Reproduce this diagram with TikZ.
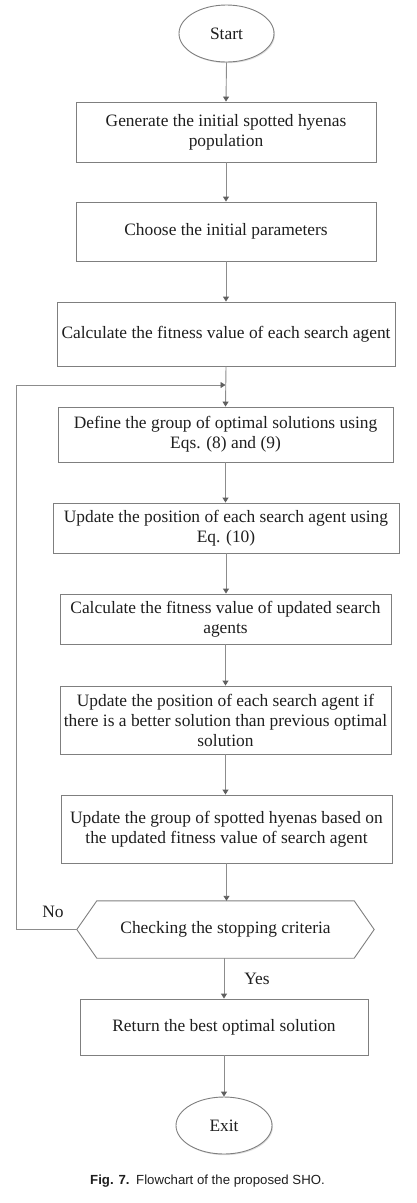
\documentclass[tikz,border=0pt]{standalone}
\usepackage{fontspec}
\setmainfont{Liberation Serif}
\newfontfamily\capfont{Liberation Sans}
\usetikzlibrary{arrows.meta,shadows,shapes.geometric}
\definecolor{boxline}{HTML}{7F7F7F}
\definecolor{arrline}{HTML}{8C8C8C}
\definecolor{arrhead}{HTML}{5F5F5F}
\definecolor{txt}{HTML}{1E1E1E}
\begin{document}
\begin{tikzpicture}[x=1pt,y=-1pt,
  every node/.style={text=txt,font=\fontsize{17.4}{20}\selectfont},
  proc/.style={draw=boxline,line width=0.9pt,rectangle,align=center,inner sep=2pt},
  term/.style={draw=boxline,fill=white,line width=0.9pt,ellipse,inner sep=0pt,
    drop shadow={shadow xshift=1pt,shadow yshift=-1.2pt,opacity=0.25}},
  flow/.style={draw=arrline,line width=0.9pt,-{Triangle[length=5pt,width=6pt,color=arrhead]}},
  lbl/.style={font=\fontsize{17.4}{20}\selectfont}]
\useasboundingbox (0,0) rectangle (417,1203);

\node[term,minimum width=95pt,minimum height=57pt] (start) at (226.5,33.5) {Start};
\node[proc,minimum width=300pt,minimum height=60pt] (b1) at (226,132) {Generate the initial spotted hyenas\\population};
\node[proc,minimum width=300pt,minimum height=59pt] (b2) at (226,231.5) {Choose the initial parameters};
\node[proc,minimum width=338pt,minimum height=64pt] (b3) at (226,334) {Calculate the fitness value of each search agent};
\node[proc,minimum width=335pt,minimum height=55pt] (b4) at (225.5,434.5) {Define the group of optimal solutions using\\Eqs. (8) and (9)};
\node[proc,minimum width=346pt,minimum height=50pt] (b5) at (226,528) {Update the position of each search agent using\\Eq. (10)};
\node[proc,minimum width=331pt,minimum height=50pt] (b6) at (225.5,619) {Calculate the fitness value of updated search\\agents};
\node[proc,minimum width=331pt,minimum height=68pt] (b7) at (225.5,720) {Update the position of each search agent if\\there is a better solution than previous optimal\\solution};
\node[proc,minimum width=331pt,minimum height=68pt] (b8) at (226.5,829) {Update the group of spotted hyenas based on\\the updated fitness value of search agent};
\node[minimum width=297pt,minimum height=57pt,inner sep=0pt] (hex) at (225.5,929.5) {Checking the stopping criteria};
\draw[boxline,line width=0.9pt] (hex.west) -- ([xshift=20pt]hex.north west) -- ([xshift=-20pt]hex.north east) -- (hex.east) -- ([xshift=-20pt]hex.south east) -- ([xshift=20pt]hex.south west) -- cycle;
\node[proc,minimum width=288pt,minimum height=56pt] (b9) at (224,1027) {Return the best optimal solution};
\node[term,minimum width=96pt,minimum height=57pt] (exit) at (224,1125.5) {Exit};

\coordinate (lx) at (16,385);
\coordinate (lj) at (226,385);

\draw[flow] (start.south) -- (b1.north);
\draw[flow] (b1.south) -- (b2.north);
\draw[flow] (b2.south) -- (b3.north);
\draw[flow] (b3.south) -- (b4.north);
\draw[flow] (b4.south) -- (b4.south |- b5.north);
\draw[flow] (b5.south) -- (b5.south |- b6.north);
\draw[flow] (b6.south) -- (b6.south |- b7.north);
\draw[flow] (b7.south) -- (b7.south |- b8.north);
\draw[flow] (b8.south) -- (b8.south |- hex.north);
\draw[flow] (b9.north |- hex.south) -- (b9.north);
\draw[flow] (b9.south) -- (exit.north);
\draw[flow] (hex.west) -- (hex.west -| lx) -- (lx) -- ([xshift=-0.5pt]lj);

\node[lbl] (no) at (53,912) {No};
\node[lbl] (yes) at (257,979) {Yes};

\node[font=\capfont\fontsize{13.2}{15}\selectfont] (cap) at (207.5,1181) {\textbf{Fig. 7.}\enspace Flowchart of the proposed SHO.};
\end{tikzpicture}
\end{document}
